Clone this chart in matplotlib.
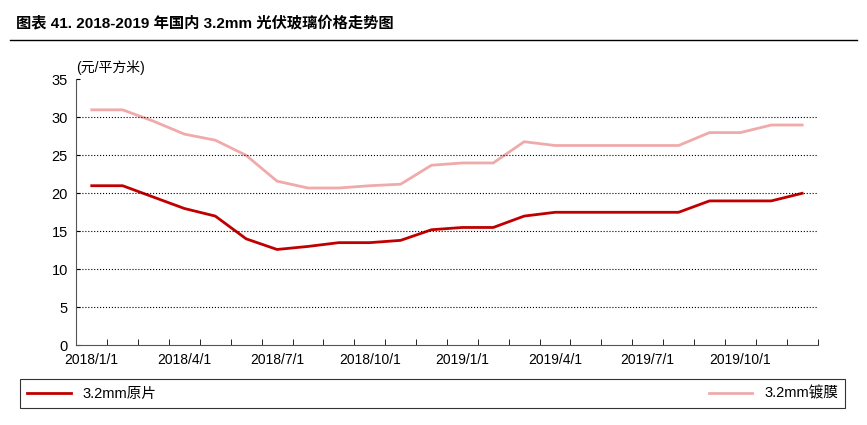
import matplotlib.pyplot as plt
import numpy as np

plt.rcParams['font.family'] = ['Liberation Sans', 'Noto Sans CJK SC', 'DejaVu Sans']

months = ['2018/1/1', '2018/2/1', '2018/3/1', '2018/4/1', '2018/5/1', '2018/6/1',
          '2018/7/1', '2018/8/1', '2018/9/1', '2018/10/1', '2018/11/1', '2018/12/1',
          '2019/1/1', '2019/2/1', '2019/3/1', '2019/4/1', '2019/5/1', '2019/6/1',
          '2019/7/1', '2019/8/1', '2019/9/1', '2019/10/1', '2019/11/1', '2019/12/1']
raw = [21, 21, 19.5, 18, 17, 14, 12.6, 13, 13.5, 13.5, 13.8, 15.2,
       15.5, 15.5, 17, 17.5, 17.5, 17.5, 17.5, 17.5, 19, 19, 19, 20]
coated = [31, 31, 29.5, 27.8, 27, 25, 21.6, 20.7, 20.7, 21, 21.2, 23.7,
          24, 24, 26.8, 26.3, 26.3, 26.3, 26.3, 26.3, 28, 28, 29, 29]

fig = plt.figure(figsize=(8.67, 4.25), dpi=100)
fig.text(0.018, 0.945, '图表 41. 2018-2019 年国内 3.2mm 光伏玻璃价格走势图',
         fontsize=11, fontweight='bold', va='center')
fig.add_artist(plt.Line2D([0.012, 0.988], [0.905, 0.905], color='black', lw=1))

ax = fig.add_axes([0.088, 0.188, 0.855, 0.625])
x = np.arange(len(months))
l1, = ax.plot(x, raw, color='#C00000', lw=2)
l2, = ax.plot(x, coated, color='#F0AAAA', lw=2)
ax.set_xlim(-0.5, len(months) - 0.5)
ax.set_ylim(0, 35)
ax.set_yticks(range(0, 36, 5))
ax.set_xticks(x[::3])
ax.set_xticklabels(months[::3], fontsize=10)
ax.set_xticks(np.arange(-0.5, len(months), 1), minor=True)
ax.tick_params(axis='x', which='major', length=0, pad=6)
ax.tick_params(axis='x', which='minor', length=4, direction='in')
ax.tick_params(axis='y', labelsize=10.5, direction='in', length=3, pad=6)
for yv in range(5, 35, 5):
    ax.axhline(yv, color='black', ls=':', lw=0.8)
for s in ['top', 'right']:
    ax.spines[s].set_visible(False)
ax.spines['left'].set_color('#555555')
ax.spines['bottom'].set_color('#555555')
ax.text(0.0, 1.03, '(元/平方米)', transform=ax.transAxes, fontsize=10, ha='left')

leg = fig.legend([l1, l2], ['3.2mm原片', '3.2mm镀膜'], loc='lower left',
                 bbox_to_anchor=(0.023, 0.04, 0.952, 0.085), mode='expand', ncol=2,
                 frameon=True, fancybox=False, edgecolor='black', fontsize=10.5,
                 handlelength=3, borderpad=0.5, borderaxespad=0)
leg.get_frame().set_linewidth(0.8)

fig.savefig('out.png', dpi=100)
